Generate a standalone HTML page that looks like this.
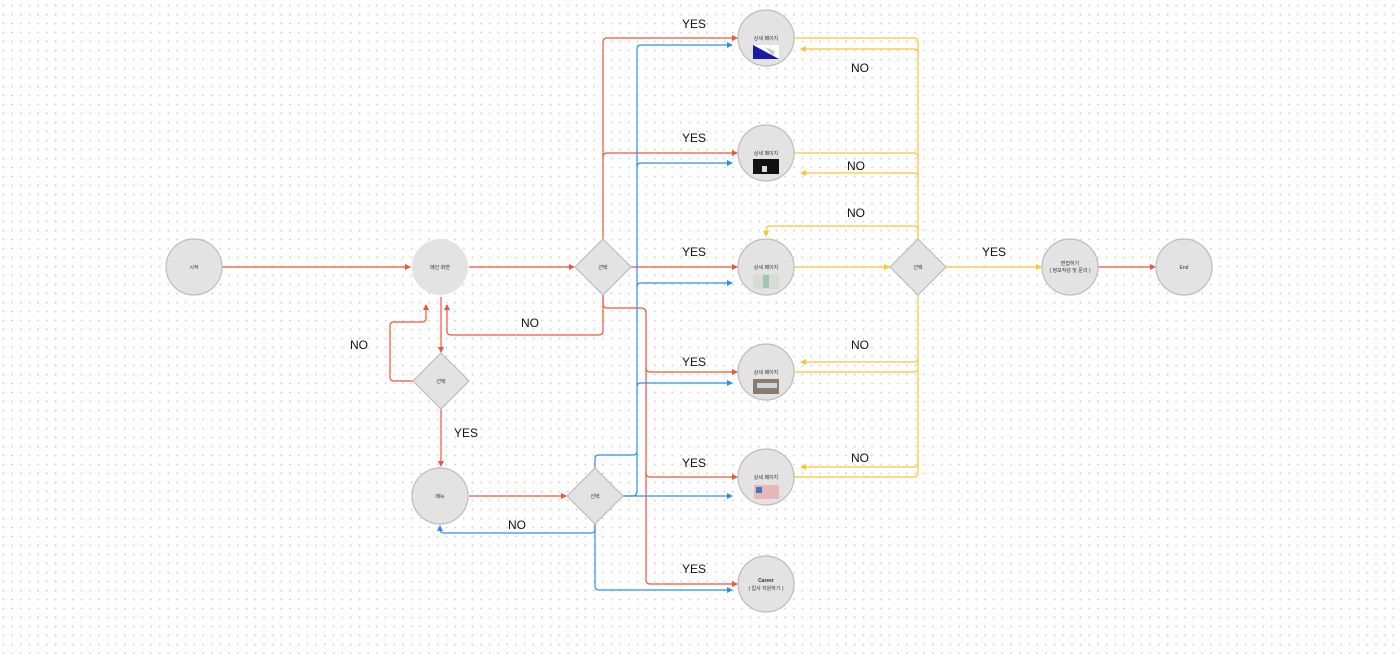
<!DOCTYPE html>
<html><head><meta charset="utf-8"><style>
html,body{margin:0;padding:0;width:1399px;height:654px;overflow:hidden;background:#fff;}
body{background-image:radial-gradient(circle,#d6d6d6 0.8px,transparent 1.1px);background-size:8.7px 9px;background-position:-1px 1px;}
svg{position:absolute;left:0;top:0;}
.s{font-size:5px;fill:#333;text-anchor:middle;font-family:"Liberation Sans","Noto Sans CJK KR",sans-serif;}
.l{font-size:12px;fill:#111;text-anchor:middle;font-family:"Liberation Sans",sans-serif;}
.r{stroke:#f0553a;fill:none;stroke-width:1.2;}
.b{stroke:#2f8ff0;fill:none;stroke-width:1.2;}
.y{stroke:#fbc531;fill:none;stroke-width:1.2;}
.c{fill:#e3e3e3;stroke:#bdbdbd;stroke-width:1.2;}
</style></head><body>
<svg width="1399" height="654" viewBox="0 0 1399 654">
<defs>
<marker id="ar" markerWidth="6" markerHeight="6" refX="5" refY="3" orient="auto" markerUnits="userSpaceOnUse"><path d="M0,0L6,3L0,6z" fill="#f0553a"/></marker>
<marker id="ab" markerWidth="6" markerHeight="6" refX="5" refY="3" orient="auto" markerUnits="userSpaceOnUse"><path d="M0,0L6,3L0,6z" fill="#2f8ff0"/></marker>
<marker id="ay" markerWidth="6" markerHeight="6" refX="5" refY="3" orient="auto" markerUnits="userSpaceOnUse"><path d="M0,0L6,3L0,6z" fill="#fbc531"/></marker>
</defs>
<path class="r" d="M222,267H410" marker-end="url(#ar)"/>
<path class="r" d="M469,267H574" marker-end="url(#ar)"/>
<path class="r" d="M603,239V42q0,-4 4,-4H737" marker-end="url(#ar)"/>
<path class="r" d="M603,157q0,-4 4,-4H737" marker-end="url(#ar)"/>
<path class="r" d="M631,267H737" marker-end="url(#ar)"/>
<path class="r" d="M603,295V304q0,4 4,4H641q5,0 5,5V580q0,4 4,4H737" marker-end="url(#ar)"/>
<path class="r" d="M646,368q0,4 4,4H737" marker-end="url(#ar)"/>
<path class="r" d="M646,473q0,4 4,4H737" marker-end="url(#ar)"/>
<path class="r" d="M603,295V331q0,4 -4,4H451q-4,0 -4,-4V305" marker-end="url(#ar)"/>
<path class="r" d="M441,297V352" marker-end="url(#ar)"/>
<path class="r" d="M413,381H394q-4,0 -4,-4V326q0,-4 4,-4H422q4,0 4,-4V305" marker-end="url(#ar)"/>
<path class="r" d="M441,409V466" marker-end="url(#ar)"/>
<path class="r" d="M469,496H566" marker-end="url(#ar)"/>
<path class="r" d="M1098,267H1155" marker-end="url(#ar)"/>
<path class="b" d="M623,496H732" marker-end="url(#ab)"/>
<path class="b" d="M623,496H632q5,0 5,-5V49q0,-4 4,-4H732" marker-end="url(#ab)"/>
<path class="b" d="M637,167q0,-4 4,-4H732" marker-end="url(#ab)"/>
<path class="b" d="M637,287q0,-4 4,-4H732" marker-end="url(#ab)"/>
<path class="b" d="M637,387q0,-4 4,-4H732" marker-end="url(#ab)"/>
<path class="b" d="M595,468V459q0,-4 4,-4H633q4,0 4,-4"/>
<path class="b" d="M595,524V586q0,4 4,4H732" marker-end="url(#ab)"/>
<path class="b" d="M595,524V529q0,4 -4,4H444q-4,0 -4,-4V526" marker-end="url(#ab)"/>
<path class="y" d="M794,38H914q4,0 4,4V473q0,4 -4,4H794"/>
<path class="y" d="M918,53q0,-4 -4,-4H801" marker-end="url(#ay)"/>
<path class="y" d="M794,153H914q4,0 4,4"/>
<path class="y" d="M918,177q0,-4 -4,-4H801" marker-end="url(#ay)"/>
<path class="y" d="M918,239V230q0,-4 -4,-4H770q-4,0 -4,4V236" marker-end="url(#ay)"/>
<path class="y" d="M794,267H889" marker-end="url(#ay)"/>
<path class="y" d="M918,358q0,4 -4,4H801" marker-end="url(#ay)"/>
<path class="y" d="M794,372H914q4,0 4,-4"/>
<path class="y" d="M918,463q0,4 -4,4H801" marker-end="url(#ay)"/>
<path class="y" d="M946,267H1041" marker-end="url(#ay)"/>
<circle class="c" cx="194" cy="267" r="28"/><text class="s" x="194" y="269">시작</text>
<circle cx="440" cy="267" r="28" fill="#e3e3e3"/><text class="s" x="440" y="269">메인 화면</text>
<circle class="c" cx="440" cy="496" r="28"/><text class="s" x="440" y="498">메뉴</text>
<path class="c" d="M603,239L631,267L603,295L575,267z"/><text class="s" x="603" y="269">선택</text>
<path class="c" d="M441,353L469,381L441,409L413,381z"/><text class="s" x="441" y="383">선택</text>
<path class="c" d="M595,468L623,496L595,524L567,496z"/><text class="s" x="595" y="498">선택</text>
<path class="c" d="M918,239L946,267L918,295L890,267z"/><text class="s" x="918" y="269">선택</text>
<circle class="c" cx="1070" cy="267" r="28"/><text class="s" x="1070" y="265">면접하기</text><text class="s" x="1070" y="272">( 정보작성 및 문의 )</text>
<circle class="c" cx="1184" cy="267" r="28"/><text class="s" x="1184" y="269">End</text>
<circle class="c" cx="766" cy="38" r="28"/><text class="s" x="766" y="40">상세 페이지</text>
<path d="M753,45H779V59H753z" fill="#fff"/><path d="M753,45L779,59H753z" fill="#1a1aa8"/><path d="M765,47l10,4l-2,5z" fill="#ccc"/>
<circle class="c" cx="766" cy="153" r="28"/><text class="s" x="766" y="155">상세 페이지</text>
<rect x="753" y="159" width="26" height="15" fill="#111"/><rect x="762" y="166" width="5" height="6" fill="#ddd"/>
<circle class="c" cx="766" cy="267" r="28"/><text class="s" x="766" y="269">상세 페이지</text>
<rect x="753" y="274" width="26" height="15" fill="#d8dcd8"/><rect x="763" y="275" width="6" height="13" fill="#9cc7b8"/>
<circle class="c" cx="766" cy="372" r="28"/><text class="s" x="766" y="374">상세 페이지</text>
<rect x="753" y="379" width="26" height="15" fill="#8a7a70"/><rect x="757" y="383" width="20" height="5" fill="#cfd8d8"/>
<circle class="c" cx="766" cy="477" r="28"/><text class="s" x="766" y="479">상세 페이지</text>
<rect x="754" y="485" width="25" height="14" fill="#e8b8b8"/><rect x="756" y="487" width="6" height="6" fill="#3a78c0"/>
<circle class="c" cx="766" cy="584" r="28"/><text class="s" x="766" y="582" style="font-weight:bold">Career</text><text class="s" x="766" y="590">( 입사 지원하기 )</text>
<text class="l" x="694" y="28">YES</text>
<text class="l" x="694" y="142">YES</text>
<text class="l" x="694" y="256">YES</text>
<text class="l" x="694" y="366">YES</text>
<text class="l" x="694" y="467">YES</text>
<text class="l" x="694" y="573">YES</text>
<text class="l" x="994" y="256">YES</text>
<text class="l" x="466" y="437">YES</text>
<text class="l" x="860" y="72">NO</text>
<text class="l" x="856" y="170">NO</text>
<text class="l" x="856" y="217">NO</text>
<text class="l" x="860" y="349">NO</text>
<text class="l" x="860" y="462">NO</text>
<text class="l" x="530" y="327">NO</text>
<text class="l" x="359" y="349">NO</text>
<text class="l" x="517" y="529">NO</text>
</svg>
</body></html>
